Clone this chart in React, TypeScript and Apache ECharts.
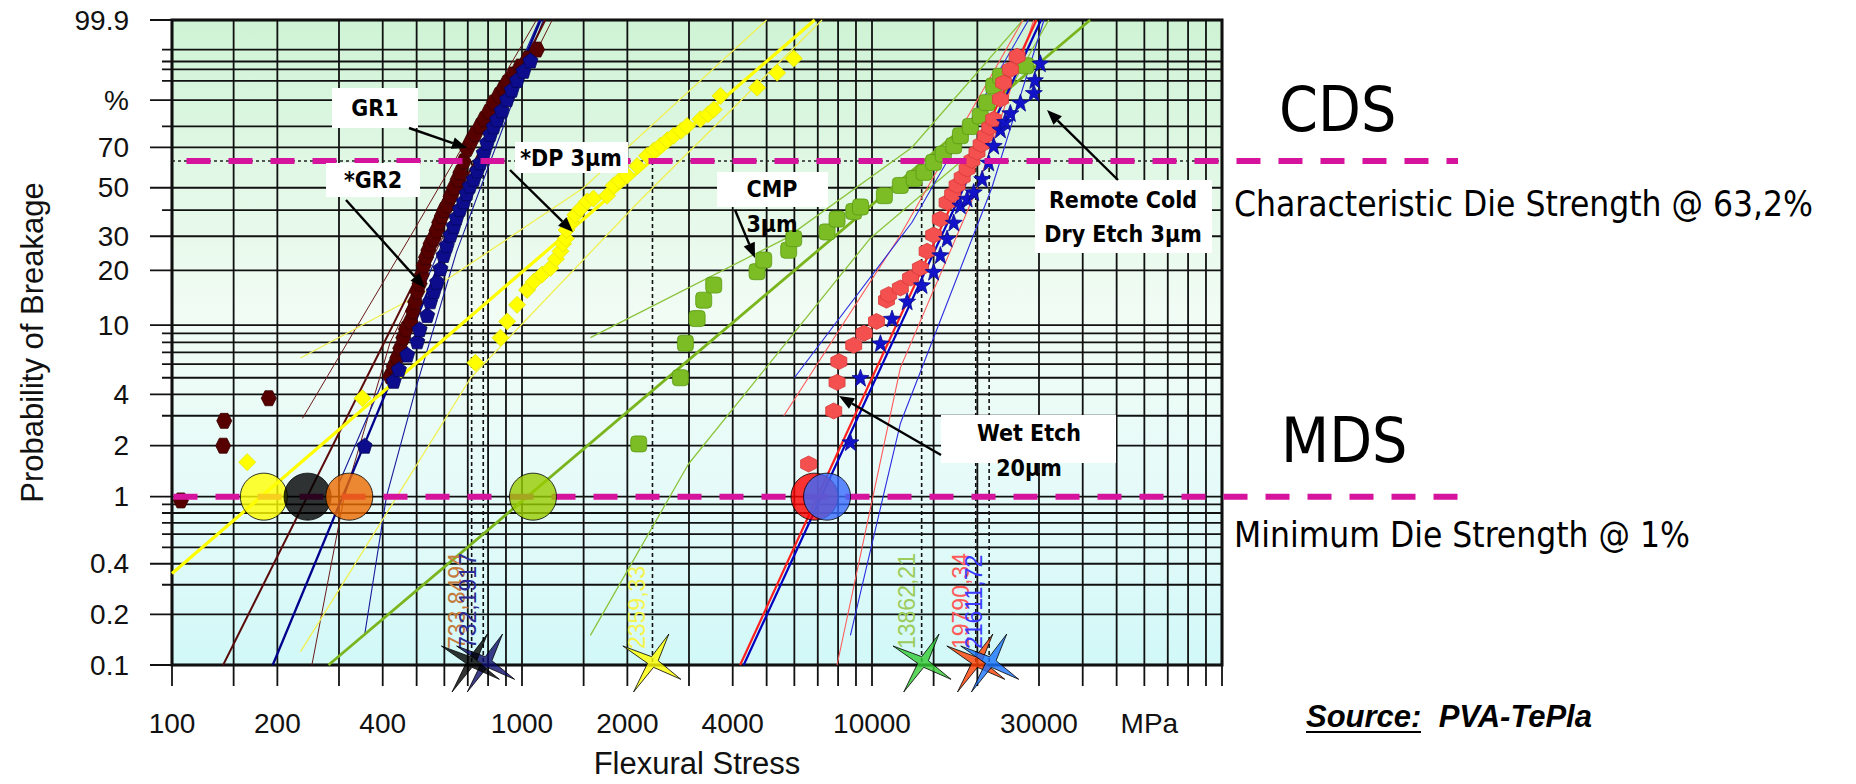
import React, { useEffect, useRef } from "react";
import * as echarts from "echarts";

// ---------- axis ticks ----------
const xGridValues = [100, 150, 200, 300, 400, 500, 600, 700, 800, 900, 1000, 1500, 2000, 3000, 4000, 5000, 6000, 7000, 8000, 9000, 10000, 15000, 20000, 30000, 40000, 50000, 60000, 70000, 80000, 90000, 100000];
const xLabelValues = [100, 200, 400, 1000, 2000, 4000, 10000, 30000, 62000];
const xLabelTexts = ["100", "200", "400", "1000", "2000", "4000", "10000", "30000", "MPa"];
const yGridProbs = [0.1, 0.2, 0.3, 0.4, 0.5, 0.6, 0.7, 0.8, 0.9, 1, 2, 3, 4, 5, 6, 7, 8, 9, 10, 20, 30, 40, 50, 70, 80, 90, 95, 97, 98, 99, 99.9];
const yLabelProbs = [0.1, 0.2, 0.4, 1, 2, 4, 10, 20, 30, 50, 70, 90, 99.9];
const yLabelTexts = ["0.1", "0.2", "0.4", "1", "2", "4", "10", "20", "30", "50", "70", "%", "99.9"];

// ---------- measured points (stress MPa, probability %) ----------
const gr1Stress = [106, 140, 141, 189, 420, 430, 440, 449, 458, 466, 480, 488, 495, 502, 510, 517, 524, 532, 540, 548, 559, 570, 580, 590, 600, 611, 625, 640, 655, 667, 682, 697, 715, 735, 760, 780, 805, 830, 860, 885, 906, 945, 989, 1040, 1104];
const gr1Prob = [0.95, 2.0, 2.8, 3.8, 5.1, 5.8, 6.5, 7.4, 8.5, 9.5, 10.5, 12, 13.5, 15.4, 17, 19, 21.3, 23.5, 25.5, 27.5, 29.2, 32, 35, 37.5, 40, 42, 46, 50, 54, 57.5, 63, 69.2, 73, 76.5, 80.1, 83, 86, 89.2, 91.5, 93.3, 94.6, 96.2, 97.4, 98.3, 99];

const gr2Stress = [355, 430, 445, 470, 502, 510, 536, 547, 560, 572, 585, 597, 610, 625, 638, 650, 665, 681, 695, 710, 728, 745, 760, 778, 795, 812, 830, 849, 875, 906, 935, 968, 1010, 1057];
const gr2Prob = [2.0, 4.8, 5.6, 6.8, 8.1, 9.5, 11.4, 13.6, 15.5, 17.4, 20.5, 24.1, 27, 30.5, 33.7, 37, 40.5, 43.7, 47.5, 51, 54.3, 58.5, 62.5, 67.5, 72.5, 76.5, 80, 83, 86.5, 90.3, 93, 95.2, 96.8, 98.1];

const dpStress = [164, 350, 736, 868, 907, 968, 1034, 1080, 1140, 1205, 1250, 1288, 1310, 1334, 1340, 1380, 1420, 1469, 1535, 1600, 1750, 1828, 1900, 1997, 2133, 2277, 2380, 2486, 2600, 2713, 2850, 2963, 3234, 3400, 3530, 3690, 4695, 5357, 5975];
const dpProb = [1.6, 3.8, 6.1, 8.5, 10.5, 13, 15.7, 17.4, 19, 20.6, 23, 25.2, 27.5, 29.2, 32.2, 35, 38, 40.5, 43.7, 45, 46.3, 51.1, 53.5, 55.9, 60.7, 65.9, 68.5, 70.9, 73.5, 75.7, 78, 80.1, 83, 85, 86.8, 91.3, 93.5, 96.5, 98.3];

const cmpStress = [2155, 2835, 2930, 3165, 3305, 3530, 4695, 4905, 5780, 5975, 7440, 7946, 8866, 9270, 10850, 12050, 13200, 14080, 15000, 15980, 17120, 17890, 19100, 20380, 21300, 22270, 23280, 27500];
const cmpProb = [2.05, 5.0, 7.9, 10.9, 13.8, 16.7, 19.7, 22.7, 25.5, 29.2, 31.5, 36.3, 39.4, 41.3, 46.3, 51.1, 54.5, 57.5, 62.5, 66.7, 70.9, 75.7, 79.9, 84.3, 89.2, 93.9, 95.9, 97.5];

const wetStress = [6590, 7773, 7946, 8040, 8866, 9490, 10300, 11000, 11160, 12050, 12880, 13750, 14370, 15000, 15680, 16390, 17000, 17500, 18100, 18700, 19300, 19950, 20500, 21080, 21700, 22270, 23280, 23780, 24850, 25980];
const wetProb = [1.56, 3.2, 4.7, 6.2, 7.7, 9.0, 10.5, 13.8, 14.8, 16.1, 18.2, 20.6, 25.2, 30.4, 36.3, 43.2, 47, 51.1, 55, 59.2, 63.5, 67.6, 71.5, 75.7, 79.5, 83, 90.3, 94.6, 97, 98.5];

const rcdStress = [8677, 9270, 10570, 11410, 12600, 13900, 15000, 15680, 16390, 17120, 17890, 18700, 19530, 20640, 21550, 22270, 23280, 24000, 24850, 26550, 29000, 29200, 30270];
const rcdProb = [2.1, 5.0, 7.9, 10.9, 13.6, 16.7, 19.7, 24.1, 29.2, 35, 42, 45, 48, 54.3, 62.5, 70.9, 78.6, 82, 85.5, 89.2, 92.2, 95.2, 97.8];

// ---------- fit lines and confidence bounds ([stress, %]) ----------
const gr1Fit = [[140, 0.1], [1165, 99.9]];
const gr1BoundA = [[236, 2.9], [480, 30], [1100, 99.9]];
const gr1BoundB = [[251, 0.1], [309, 0.95], [420, 8], [1220, 99.9]];
const gr2Fit = [[194, 0.1], [1130, 99.9]];
const gr2BoundA = [[355, 0.15], [410, 1], [500, 4.5], [650, 25], [1150, 99.9]];
const gr2BoundB = [[300, 1.2], [420, 6], [1120, 99.9]];
const dpFit = [[100, 0.35], [6860, 99.9]];
const dpBoundA = [[233, 6.5], [600, 17.5], [1500, 50], [5000, 99.9]];
const dpBoundB = [[233, 0.12], [714, 5], [2200, 45], [7200, 99.9]];
const cmpFit = [[280, 0.1], [42000, 99.9]];
const cmpBoundA = [[1568, 8.5], [5657, 29.2], [13000, 70], [27000, 99.9]];
const cmpBoundB = [[1568, 0.15], [2990, 1.56], [9870, 29.2], [20000, 70], [32000, 99.9]];
const wetFit = [[4200, 0.1], [29500, 99.9]];
const wetBoundA = [[7946, 0.1], [12050, 5.7], [20000, 50], [29000, 99.9]];
const wetBoundB = [[5600, 3], [12000, 30], [27000, 99.9]];
const rcdFit = [[4300, 0.1], [30400, 99.9]];
const rcdBoundA = [[8677, 0.15], [12050, 2.7], [22000, 50], [31000, 99.9]];
const rcdBoundB = [[6000, 5], [13000, 35], [28000, 99.9]];

// ---------- characteristic (63.2 %) and minimum (1 %) strengths ----------
const cdsLineStress = [718, 775, 2359.33, 13862.21, 19790.34, 21611.72];
const cdsLabelTexts = ["733,8494", "732,1917", "2359,33", "13862,21", "19790,34", "21611,72"];
const cdsLabelColors = ["#c47a3a", "#2a2a92", "#f4f44c", "#9ccc5c", "#ff5a5a", "#3a3aff"];
const starStress = [787, 712, 2350, 13900, 19800, 21700];
const starColors = ["#0d0d6b", "#000000", "#ffff00", "#33cc33", "#ff4000", "#1a73ff"];
const mdsStress = [183, 244, 321, 1075, 6850, 7440];
const mdsColors = ["#ffff00", "#000000", "#ee6a00", "#99cc00", "#ff0000", "#3a6cff"];

const CDS_P = 63.2;
const MDS_P = 1;

const weib = (p: number) => Math.log(-Math.log(1 - p / 100));
const Y_MIN = weib(0.1);
const Y_MAX = weib(99.9);

const HEX = "path://M25,0 L75,0 L100,50 L75,100 L25,100 L0,50 Z";
const HEX2 = "path://M50,0 L93,25 L93,75 L50,100 L7,75 L7,25 Z";
const PENT = "path://M50,0 L100,38 L81,100 L19,100 L0,38 Z";
const STAR5 = "path://M50,0 L62,35 L100,38 L70,60 L80,100 L50,76 L20,100 L30,60 L0,38 L38,35 Z";
const STAR4 = "path://M74,8 L58,48 L92,76 L51,58 L21,95 L42,52 L5,26 L48,42 Z";

const TICK_FONT = "'Liberation Sans', Arial, sans-serif";
const TAHOMA = "'DejaVu Sans Condensed', 'DejaVu Sans', sans-serif";

function lineSeries(pairs: number[][], color: string, width: number, z = 2) {
  return {
    type: "line",
    data: pairs.map(([x, p]) => [x, weib(p)]),
    symbol: "none",
    silent: true,
    clip: true,
    lineStyle: { color, width },
    z,
  };
}

function scatterSeries(xs: number[], ps: number[], symbol: string, size: number, color: string, border: string) {
  return {
    type: "scatter",
    data: xs.map((x, i) => [x, weib(ps[i])]),
    symbol,
    symbolSize: size,
    silent: true,
    itemStyle: { color, borderColor: border, borderWidth: 0.8, opacity: 1 },
    z: 3,
  };
}

function arrow(x1: number, y1: number, x2: number, y2: number) {
  const a = Math.atan2(y2 - y1, x2 - x1);
  const L = 15, W = 6;
  const bx = x2 - L * Math.cos(a), by = y2 - L * Math.sin(a);
  const px = -Math.sin(a) * W, py = Math.cos(a) * W;
  return [
    { type: "line", z: 60, shape: { x1, y1, x2: bx, y2: by }, style: { stroke: "#000", lineWidth: 2.4 } },
    { type: "polygon", z: 60, shape: { points: [[x2, y2], [bx + px, by + py], [bx - px, by - py]] }, style: { fill: "#000" } },
  ];
}

function box(x: number, y: number, w: number, h: number) {
  return { type: "rect", z: 50, shape: { x, y, width: w, height: h }, style: { fill: "#ffffff" } };
}

function label(text: string, x: number, y: number, size = 23, weight = "bold", family = TAHOMA, align = "center") {
  return {
    type: "text", z: 55, x, y,
    style: { text, fill: "#000", fontSize: size, fontWeight: weight, fontFamily: family, align, verticalAlign: "middle" },
  };
}

export default function App() {
  const ref = useRef<HTMLDivElement>(null);

  useEffect(() => {
    if (!ref.current) return;
    const chart = echarts.init(ref.current, undefined, { renderer: "svg" });

    const bg = new echarts.graphic.LinearGradient(0, 0, 0, 1, [
      { offset: 0, color: "#cff3d5" },
      { offset: 0.45, color: "#f1fcf4" },
      { offset: 0.72, color: "#e6fbf9" },
      { offset: 1, color: "#d2f8f8" },
    ]);

    const option: any = {
      animation: false,
      grid: { left: 172, top: 20, width: 1050, height: 649, show: true, backgroundColor: bg, borderColor: "#000", borderWidth: 3, z: 0 },
      xAxis: {
        type: "log", logBase: 10, min: 100, max: 100000,
        axisLine: { show: false }, axisTick: { show: false }, axisLabel: { show: false }, splitLine: { show: false },
        name: "Flexural Stress", nameLocation: "middle", nameGap: 83,
        nameTextStyle: { fontFamily: TICK_FONT, fontSize: 31, color: "#111" },
      },
      yAxis: {
        type: "value", min: Y_MIN, max: Y_MAX,
        axisLine: { show: false }, axisTick: { show: false }, axisLabel: { show: false }, splitLine: { show: false },
        name: "Probability of Breakage", nameLocation: "middle", nameGap: 124, nameRotate: 90,
        nameTextStyle: { fontFamily: TICK_FONT, fontSize: 31, color: "#111" },
      },
      series: [
        // vertical grid lines + ticks
        {
          type: "custom", silent: true, z: 1,
          data: xGridValues.map((v) => [v, Y_MIN]),
          renderItem: (params: any, api: any) => {
            const cs = params.coordSys;
            const x = api.coord([api.value(0), Y_MIN])[0];
            return { type: "line", shape: { x1: x, y1: cs.y, x2: x, y2: cs.y + cs.height + 21 }, style: { stroke: "#111", lineWidth: 1.8 } };
          },
        },
        // horizontal grid lines + ticks
        {
          type: "custom", silent: true, z: 1,
          data: yGridProbs.map((p) => [100, weib(p)]),
          renderItem: (params: any, api: any) => {
            const cs = params.coordSys;
            const y = api.coord([100, api.value(1)])[1];
            const major = yLabelProbs.includes(yGridProbs[params.dataIndex]);
            return { type: "line", shape: { x1: cs.x - (major ? 22 : 10), y1: y, x2: cs.x + cs.width, y2: y }, style: { stroke: "#111", lineWidth: 1.8 } };
          },
        },
        // x tick labels
        {
          type: "custom", silent: true, z: 1,
          data: xLabelValues.map((v) => [v, Y_MIN]),
          renderItem: (params: any, api: any) => {
            const cs = params.coordSys;
            const x = api.coord([api.value(0), Y_MIN])[0];
            return { type: "text", x, y: cs.y + cs.height + 58, style: { text: xLabelTexts[params.dataIndex], fill: "#111", fontSize: 28, fontFamily: TICK_FONT, align: "center", verticalAlign: "middle" } };
          },
        },
        // y tick labels
        {
          type: "custom", silent: true, z: 1,
          data: yLabelProbs.map((p) => [100, weib(p)]),
          renderItem: (params: any, api: any) => {
            const cs = params.coordSys;
            const y = api.coord([100, api.value(1)])[1];
            return { type: "text", x: cs.x - 43, y, style: { text: yLabelTexts[params.dataIndex], fill: "#111", fontSize: 28, fontFamily: TICK_FONT, align: "right", verticalAlign: "middle" } };
          },
        },
        // 63.2 % dotted line
        { type: "line", data: [[100, weib(CDS_P)], [100000, weib(CDS_P)]], symbol: "none", silent: true, lineStyle: { color: "#222", width: 1.5, type: [3, 3] }, z: 2 },
        // dotted CDS verticals
        ...cdsLineStress.map((v) => ({
          type: "line", data: [[v, weib(CDS_P)], [v, Y_MIN]], symbol: "none", silent: true,
          lineStyle: { color: "#111", width: 1.6, type: [4, 3] }, z: 2,
        })),
        // confidence bounds (thin)
        lineSeries(gr1BoundA, "#6b1a1a", 1),
        lineSeries(gr1BoundB, "#6b1a1a", 1),
        lineSeries(gr2BoundA, "#1a1a9a", 1.1),
        lineSeries(gr2BoundB, "#1a1a9a", 1.1),
        lineSeries(dpBoundA, "#f0f050", 1.3),
        lineSeries(dpBoundB, "#f0f050", 1.3),
        lineSeries(cmpBoundA, "#8cc43c", 1.3),
        lineSeries(cmpBoundB, "#8cc43c", 1.3),
        lineSeries(wetBoundA, "#ff5a5a", 1.1),
        lineSeries(wetBoundB, "#ff5a5a", 1.1),
        lineSeries(rcdBoundA, "#2a2ae0", 1.1),
        lineSeries(rcdBoundB, "#2a2ae0", 1.1),
        // fits (thick)
        lineSeries(gr1Fit, "#5a0a0a", 2),
        lineSeries(gr2Fit, "#00008c", 2.3),
        lineSeries(dpFit, "#ffff00", 3.2),
        lineSeries(cmpFit, "#7ab51d", 2.8),
        lineSeries(wetFit, "#ff2020", 2.2),
        lineSeries(rcdFit, "#0000c0", 2.2),
        // points
        scatterSeries(gr1Stress, gr1Prob, HEX, 15, "#560000", "#3a0000"),
        scatterSeries(gr2Stress, gr2Prob, PENT, 15, "#0c0c8c", "#06065a"),
        scatterSeries(dpStress, dpProb, "diamond", 17, "#ffff00", "#e6e600"),
        scatterSeries(cmpStress, cmpProb, "roundRect", 16, "#7cbc24", "#5a9a14"),
        scatterSeries(wetStress, wetProb, HEX2, 16, "#f45050", "#d83a3a"),
        scatterSeries(rcdStress, rcdProb, STAR5, 17, "#1212c8", "#0a0a90"),
        // rotated CDS value labels
        {
          type: "custom", silent: true, z: 4,
          data: cdsLineStress.map((v) => [v, Y_MIN]),
          renderItem: (params: any, api: any) => {
            const p = api.coord([api.value(0), Y_MIN]);
            return {
              type: "text", x: p[0] - 15, y: p[1] - 16, rotation: Math.PI / 2,
              style: { text: cdsLabelTexts[params.dataIndex], fill: cdsLabelColors[params.dataIndex], fontSize: 23, fontFamily: TICK_FONT, align: "left", verticalAlign: "middle" },
            };
          },
        },
        // MDS circles
        {
          type: "scatter", silent: true, z: 6, clip: false,
          data: mdsStress.map((v, i) => ({ value: [v, weib(MDS_P)], itemStyle: { color: mdsColors[i] } })),
          symbol: "circle", symbolSize: 47,
          itemStyle: { borderColor: "#000", borderWidth: 1 },
        },
        // CDS stars
        {
          type: "scatter", silent: true, z: 7, clip: false,
          data: starStress.map((v, i) => ({ value: [v, Y_MIN], itemStyle: { color: starColors[i] } })),
          symbol: STAR4, symbolSize: 58, symbolOffset: [0, -2],
          itemStyle: { borderColor: "#000", borderWidth: 1 },
        },
      ],
    };

    chart.setOption(option);

    const cdsA = chart.convertToPixel({ gridIndex: 0 }, [110, weib(CDS_P)]) as number[];
    const mdsA = chart.convertToPixel({ gridIndex: 0 }, [101, weib(MDS_P)]) as number[];
    const dashStyle = { stroke: "#d6139d", lineWidth: 6, lineDash: [24, 18] };
    const DASH_END = 1458;

    const graphic: any[] = [
      { type: "line", z: 5, shape: { x1: cdsA[0], y1: cdsA[1], x2: DASH_END, y2: cdsA[1] }, style: dashStyle },
      { type: "line", z: 5, shape: { x1: mdsA[0], y1: mdsA[1], x2: DASH_END, y2: mdsA[1] }, style: dashStyle },
      // annotation boxes
      box(332, 88, 86, 40), label("GR1", 375, 108),
      box(326, 163, 94, 34), label("*GR2", 373, 180),
      box(515, 142, 113, 31), label("*DP 3µm", 571, 158),
      box(717, 172, 111, 35), label("CMP", 772, 189), label("3µm", 772, 224),
      box(1035, 180, 177, 73), label("Remote Cold", 1123, 200), label("Dry Etch 3µm", 1123, 234),
      box(941, 415, 175, 48), label("Wet Etch", 1029, 433), label("20µm", 1029, 468),
      ...arrow(409, 128, 467, 148),
      ...arrow(346, 200, 425, 288),
      ...arrow(510, 170, 573, 232),
      ...arrow(735, 210, 755, 258),
      ...arrow(1118, 180, 1047, 110),
      ...arrow(941, 455, 839, 396),
      // right-hand legend texts
      label("CDS", 1279, 109, 62, "normal", TAHOMA, "left"),
      label("Characteristic Die Strength @ 63,2%", 1234, 204, 35, "normal", TAHOMA, "left"),
      label("MDS", 1281, 440, 62, "normal", TAHOMA, "left"),
      label("Minimum Die Strength @ 1%", 1234, 535, 35, "normal", TAHOMA, "left"),
      {
        type: "text", z: 55, x: 1306, y: 716,
        style: { text: "Source:  PVA-TePla", fill: "#000", fontSize: 31, fontWeight: "bold", fontStyle: "italic", fontFamily: TICK_FONT, align: "left", verticalAlign: "middle" },
      },
      { type: "line", z: 55, shape: { x1: 1306, y1: 732, x2: 1421, y2: 732 }, style: { stroke: "#000", lineWidth: 2.2 } },
    ];
    chart.setOption({ graphic });

    return () => chart.dispose();
  }, []);

  return <div ref={ref} style={{ position: "fixed", left: 0, top: 0, width: 1856, height: 784, background: "#fff" }} />;
}
